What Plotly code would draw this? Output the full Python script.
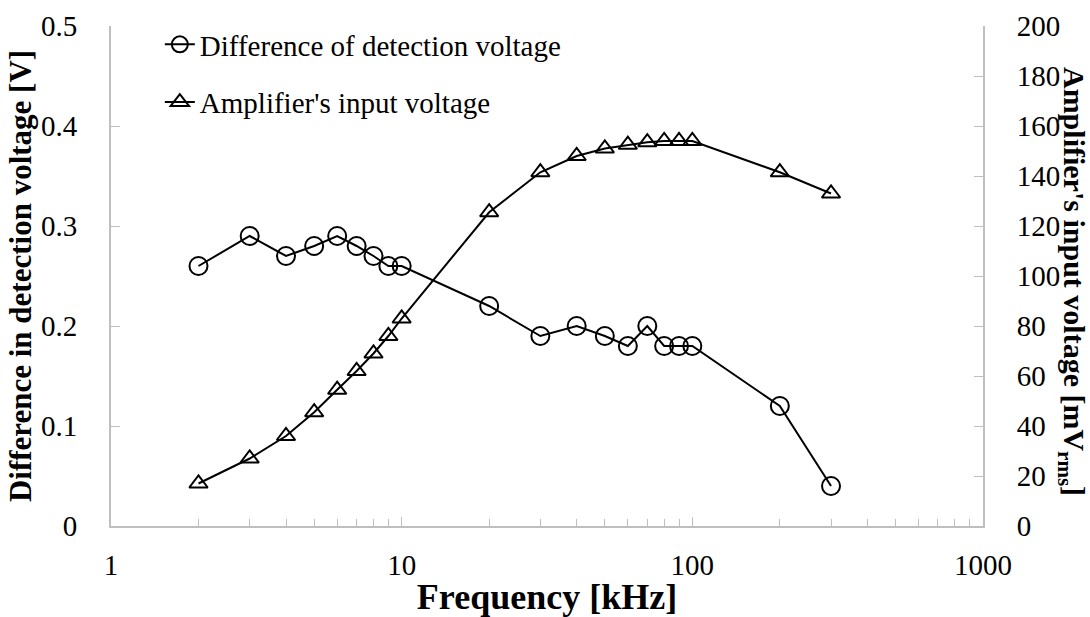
import plotly.graph_objects as go

freq = [2, 3, 4, 5, 6, 7, 8, 9, 10, 20, 30, 40, 50, 60, 70, 80, 90, 100, 200, 300]
diff_v = [0.26, 0.29, 0.27, 0.28, 0.29, 0.28, 0.27, 0.26, 0.26, 0.22, 0.19, 0.20, 0.19,
          0.18, 0.20, 0.18, 0.18, 0.18, 0.12, 0.04]
amp_v = [17, 27, 36, 45.5, 54.5, 62, 69, 76, 83, 125.5, 141.5, 148, 151, 152.5, 153.5,
         154, 154, 154, 141.5, 133]

x_ticks = [1, 10, 100, 1000]
x_minor = [m * d for d in (1, 10, 100) for m in range(2, 10)]

FONT = "Liberation Serif"
AXC = "#bfbfbf"

fig = go.Figure()
fig.add_trace(go.Scatter(
    x=freq, y=diff_v, name="Difference of detection voltage",
    mode="lines+markers", legendgroup="a",
    line=dict(color="black", width=2),
    marker=dict(symbol="circle-open", size=18, color="black", line=dict(width=2)),
))
fig.add_trace(go.Scatter(
    x=freq, y=amp_v, name="Amplifier's input voltage", yaxis="y2",
    mode="lines+markers", legendgroup="b",
    line=dict(color="black", width=2),
    marker=dict(symbol="triangle-up-open", size=16, color="black", line=dict(width=2)),
))

fig.update_layout(
    width=1090, height=617,
    margin=dict(l=111, r=107, t=26, b=91, autoexpand=False),
    paper_bgcolor="white", plot_bgcolor="white",
    font=dict(family=FONT, size=29, color="black"),
    showlegend=True,
    legend=dict(x=0.056, y=1.014, xanchor="left", yanchor="top",
                bgcolor="rgba(0,0,0,0)", font=dict(size=29, family=FONT),
                tracegroupgap=17, itemwidth=30),
    xaxis=dict(
        type="log", range=[0, 3], tickvals=x_ticks, ticktext=[str(v) for v in x_ticks],
        showgrid=False, zeroline=False, showline=True, linecolor=AXC, linewidth=2,
        ticks="inside", ticklen=9, tickcolor=AXC, tickwidth=1,
        ticklabelstandoff=12, automargin=True,
        minor=dict(tickvals=x_minor, ticks="inside", ticklen=7, tickcolor=AXC, tickwidth=1,
                   showgrid=False),
        title=dict(text="Frequency [kHz]", font=dict(size=36, family=FONT, weight="bold"),
                   standoff=6),
    ),
    yaxis=dict(
        range=[0, 0.5], dtick=0.1, tick0=0,
        showgrid=False, zeroline=False, showline=True, linecolor=AXC, linewidth=2,
        ticks="inside", ticklen=9, tickcolor=AXC, tickwidth=1,
        ticklabelstandoff=26, automargin=False,
        title=dict(text="Difference in detection voltage [V]",
                   font=dict(size=31, family=FONT, weight="bold"), standoff=0),
    ),
    yaxis2=dict(
        range=[0, 200], dtick=20, tick0=0, overlaying="y", side="right",
        showgrid=False, zeroline=False, showline=True, linecolor=AXC, linewidth=2,
        ticks="inside", ticklen=9, tickcolor=AXC, tickwidth=1,
        ticklabelstandoff=26, automargin=False,
    ),
    annotations=[dict(
        text="Amplifier's input voltage [mV<sub>rms</sub>]",
        xref="paper", yref="paper", x=1.1021, y=0.49, xanchor="center", yanchor="middle",
        textangle=90, showarrow=False,
        font=dict(size=30, family=FONT, weight="bold", color="black"),
    )],
)

fig.write_html("out.html", config={"displayModeBar": False},
               post_script="document.body.style.margin='0';document.body.style.padding='0';")
